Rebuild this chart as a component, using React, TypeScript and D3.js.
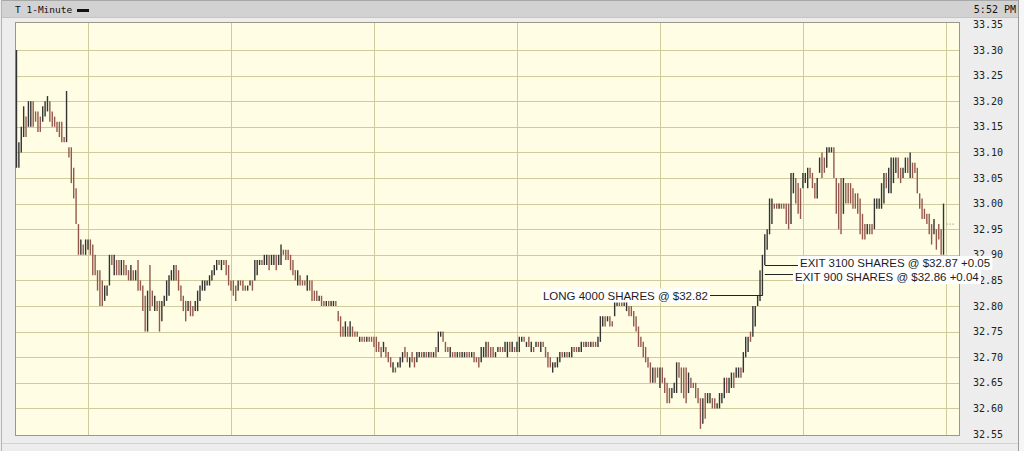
import React, { useMemo } from "react";
import * as d3 from "d3";

// ---------- DATA ----------
const HEADER_LEFT = "T 1-Minute";
const HEADER_RIGHT = "5:52 PM";
const SESSION_OPEN = "09:30";
const SESSION_CLOSE = "16:00";
const GRID_TIMES = ["10:00", "11:00", "12:00", "13:00", "14:00", "15:00", "16:00"];
const PRICE_TICKS = [32.55, 32.6, 32.65, 32.7, 32.75, 32.8, 32.85, 32.9, 32.95, 33.0, 33.05, 33.1, 33.15, 33.2, 33.25, 33.3, 33.35];
const PRICE_MIN = 32.55;
const PRICE_MAX = 33.35;

// one-minute bars, 09:30 .. 15:59
const HIGH = [
  33.30, 33.12, 33.15, 33.19, 33.17, 33.20, 33.20, 33.20, 33.18, 33.18,
  33.17, 33.19, 33.20, 33.21, 33.20, 33.18, 33.17, 33.16, 33.16, 33.16,
  33.13, 33.22, 33.11, 33.11, 33.07, 33.03, 32.96, 32.93, 32.92, 32.93,
  32.93, 32.93, 32.92, 32.90, 32.87, 32.87, 32.85, 32.84, 32.84, 32.90,
  32.90, 32.90, 32.89, 32.89, 32.89, 32.89, 32.88, 32.87, 32.88, 32.87,
  32.87, 32.89, 32.85, 32.84, 32.82, 32.83, 32.88, 32.83, 32.82, 32.81,
  32.81, 32.81, 32.82, 32.85, 32.86, 32.87, 32.88, 32.88, 32.87, 32.84,
  32.82, 32.81, 32.81, 32.81, 32.80, 32.81, 32.83, 32.84, 32.85, 32.85,
  32.85, 32.86, 32.87, 32.88, 32.89, 32.89, 32.89, 32.89, 32.89, 32.88,
  32.85, 32.85, 32.84, 32.85, 32.85, 32.85, 32.84, 32.84, 32.85, 32.85,
  32.89, 32.89, 32.89, 32.89, 32.90, 32.90, 32.90, 32.90, 32.90, 32.90,
  32.90, 32.92, 32.91, 32.91, 32.91, 32.90, 32.89, 32.87, 32.87, 32.86,
  32.85, 32.85, 32.86, 32.85, 32.85, 32.83, 32.83, 32.82, 32.82, 32.81,
  32.81, 32.81, 32.81, 32.81, 32.81, 32.79, 32.78, 32.76, 32.77, 32.76,
  32.77, 32.76, 32.75, 32.75, 32.74, 32.74, 32.74, 32.74, 32.74, 32.74,
  32.74, 32.74, 32.73, 32.72, 32.73, 32.72, 32.71, 32.70, 32.69, 32.68,
  32.69, 32.70, 32.71, 32.72, 32.71, 32.70, 32.71, 32.70, 32.71, 32.71,
  32.71, 32.71, 32.71, 32.71, 32.71, 32.71, 32.72, 32.75, 32.75, 32.75,
  32.73, 32.72, 32.72, 32.71, 32.71, 32.71, 32.71, 32.71, 32.71, 32.71,
  32.71, 32.71, 32.71, 32.70, 32.70, 32.72, 32.72, 32.73, 32.73, 32.72,
  32.72, 32.71, 32.72, 32.72, 32.72, 32.73, 32.73, 32.73, 32.73, 32.72,
  32.73, 32.74, 32.74, 32.74, 32.73, 32.74, 32.73, 32.72, 32.73, 32.73,
  32.73, 32.73, 32.72, 32.71, 32.70, 32.69, 32.69, 32.70, 32.71, 32.71,
  32.71, 32.71, 32.71, 32.72, 32.72, 32.72, 32.72, 32.73, 32.73, 32.73,
  32.73, 32.73, 32.73, 32.73, 32.74, 32.78, 32.78, 32.78, 32.78, 32.78,
  32.77, 32.81, 32.81, 32.81, 32.81, 32.81, 32.81, 32.80, 32.80, 32.79,
  32.78, 32.76, 32.74, 32.73, 32.72, 32.70, 32.69, 32.68, 32.68, 32.68,
  32.68, 32.68, 32.66, 32.65, 32.64, 32.64, 32.65, 32.69, 32.69, 32.68,
  32.68, 32.68, 32.67, 32.66, 32.65, 32.65, 32.64, 32.62, 32.62, 32.63,
  32.63, 32.63, 32.62, 32.62, 32.61, 32.63, 32.63, 32.66, 32.66, 32.66,
  32.67, 32.67, 32.68, 32.68, 32.68, 32.71, 32.74, 32.74, 32.75, 32.80,
  32.80, 32.82, 32.87, 32.90, 32.94, 32.95, 33.01, 33.01, 33.00, 33.00,
  33.00, 33.00, 33.00, 33.00, 33.00, 33.06, 33.06, 33.05, 33.04, 33.03,
  33.06, 33.06, 33.07, 33.07, 33.06, 33.04, 33.05, 33.09, 33.10, 33.09,
  33.11, 33.11, 33.11, 33.11, 33.05, 33.04, 33.05, 33.05, 33.04, 33.04,
  33.04, 33.03, 33.02, 33.02, 33.01, 32.98, 32.96, 32.96, 32.96, 32.96,
  33.01, 33.01, 33.01, 33.04, 33.06, 33.06, 33.07, 33.09, 33.09, 33.09,
  33.09, 33.07, 33.07, 33.09, 33.09, 33.10, 33.08, 33.08, 33.07, 33.02,
  33.01, 32.99, 32.98, 32.98, 32.96, 32.97, 32.95, 32.96, 32.95, 33.00,
];
const LOW = [
  33.07, 33.07, 33.10, 33.13, 33.13, 33.15, 33.15, 33.15, 33.16, 33.14,
  33.14, 33.16, 33.17, 33.18, 33.16, 33.15, 33.15, 33.14, 33.13, 33.12,
  33.12, 33.12, 33.09, 33.04, 33.01, 32.96, 32.90, 32.90, 32.90, 32.90,
  32.91, 32.90, 32.86, 32.86, 32.83, 32.80, 32.80, 32.81, 32.82, 32.84,
  32.88, 32.86, 32.86, 32.86, 32.86, 32.86, 32.86, 32.85, 32.85, 32.85,
  32.85, 32.83, 32.83, 32.79, 32.75, 32.75, 32.79, 32.80, 32.79, 32.79,
  32.75, 32.77, 32.80, 32.81, 32.82, 32.85, 32.85, 32.85, 32.83, 32.81,
  32.79, 32.77, 32.79, 32.78, 32.78, 32.79, 32.79, 32.81, 32.83, 32.83,
  32.84, 32.84, 32.85, 32.86, 32.87, 32.88, 32.87, 32.88, 32.86, 32.84,
  32.83, 32.82, 32.81, 32.83, 32.84, 32.83, 32.83, 32.83, 32.84, 32.83,
  32.85, 32.86, 32.88, 32.88, 32.88, 32.88, 32.87, 32.88, 32.88, 32.87,
  32.88, 32.88, 32.90, 32.89, 32.89, 32.87, 32.86, 32.85, 32.84, 32.84,
  32.84, 32.84, 32.83, 32.83, 32.81, 32.81, 32.81, 32.81, 32.80, 32.80,
  32.80, 32.80, 32.80, 32.80, 32.80, 32.77, 32.74, 32.74, 32.74, 32.74,
  32.74, 32.74, 32.74, 32.74, 32.73, 32.73, 32.73, 32.73, 32.73, 32.73,
  32.72, 32.71, 32.71, 32.70, 32.71, 32.70, 32.69, 32.68, 32.67, 32.67,
  32.68, 32.68, 32.69, 32.70, 32.69, 32.68, 32.69, 32.68, 32.69, 32.70,
  32.70, 32.70, 32.70, 32.70, 32.70, 32.70, 32.70, 32.71, 32.74, 32.73,
  32.71, 32.71, 32.70, 32.70, 32.70, 32.70, 32.70, 32.70, 32.70, 32.70,
  32.70, 32.70, 32.69, 32.69, 32.68, 32.69, 32.70, 32.70, 32.70, 32.70,
  32.70, 32.70, 32.71, 32.71, 32.71, 32.71, 32.70, 32.71, 32.71, 32.71,
  32.71, 32.71, 32.73, 32.73, 32.72, 32.72, 32.71, 32.71, 32.72, 32.72,
  32.71, 32.72, 32.70, 32.68, 32.68, 32.67, 32.68, 32.68, 32.69, 32.70,
  32.70, 32.70, 32.70, 32.70, 32.71, 32.71, 32.71, 32.71, 32.72, 32.72,
  32.72, 32.72, 32.72, 32.72, 32.72, 32.73, 32.76, 32.76, 32.77, 32.76,
  32.76, 32.78, 32.80, 32.80, 32.80, 32.80, 32.79, 32.78, 32.78, 32.76,
  32.75, 32.72, 32.72, 32.70, 32.69, 32.68, 32.65, 32.65, 32.65, 32.66,
  32.64, 32.65, 32.63, 32.61, 32.61, 32.62, 32.63, 32.63, 32.66, 32.63,
  32.62, 32.61, 32.63, 32.64, 32.64, 32.62, 32.61, 32.56, 32.57, 32.58,
  32.61, 32.61, 32.60, 32.60, 32.60, 32.60, 32.61, 32.62, 32.63, 32.63,
  32.64, 32.64, 32.66, 32.66, 32.66, 32.67, 32.70, 32.71, 32.73, 32.74,
  32.76, 32.80, 32.81, 32.82, 32.88, 32.91, 32.94, 32.96, 32.99, 32.99,
  32.99, 32.99, 32.99, 32.96, 32.95, 32.96, 33.02, 33.00, 32.98, 32.97,
  33.03, 33.04, 33.03, 33.05, 33.03, 33.01, 33.01, 33.06, 33.05, 33.06,
  33.07, 33.10, 33.10, 33.05, 32.98, 32.95, 32.94, 32.98, 33.00, 33.00,
  33.00, 32.99, 32.99, 32.98, 32.94, 32.93, 32.93, 32.94, 32.94, 32.94,
  32.95, 32.99, 32.99, 32.99, 33.00, 33.03, 33.02, 33.02, 33.04, 33.06,
  33.05, 33.04, 33.05, 33.06, 33.06, 33.05, 33.05, 33.06, 33.02, 32.99,
  32.97, 32.97, 32.96, 32.94, 32.92, 32.94, 32.91, 32.93, 32.90, 32.90,
];
// bar colour: u = dark (up), d = brown (down)
const DIRECTION = [
  "uuuuduuddd", "duuudddddd", "dudddddudu", "udddddduuu", "duddudddud",
  "udddduddud", "duuuuuuddd", "ddudduuuuu", "uuuuududdd", "ddduddduud",
  "uuuduuduud", "uuddddddud", "dduddddudd", "uduuddddud", "uddduddudd",
  "ddddudddud", "uuuddudduu", "dudududuud", "ddudduduud", "duddduuudd",
  "duudduudud", "uuudududud", "udddduuuud", "uduudduudu", "dudduuudud",
  "duudduuddd", "dddddddudd", "udddduuudd", "ddudddddud", "uudduuuudu",
  "uduuduuudu", "uuuuuuuudd", "udddduuddd", "uuuddduudd", "uuuddddudd",
  "dddddddudd", "uuuuuduuuu", "dduududddd", "dddddudddu",
].join("");
const LAST_PRICE = 32.96;

// trade annotations
const ANN_TEXT = ["LONG 4000 SHARES @ $32.82", "EXIT 3100 SHARES @ $32.87 +0.05", "EXIT 900 SHARES @ $32.86 +0.04"];
const ANN_PRICE = [32.82, 32.87, 32.86];
const ANN_TIME = ["14:43", "14:44", "14:44"];
const ANN_SIDE = ["left", "right", "right"];

// ---------- LAYOUT / STYLE ----------
const W = 1024;
const H = 451;
const PLOT = { left: 15.5, right: 959.5, top: 22.5, bottom: 435.5 };
const X_RANGE = [16.5, 945.9];
const Y_RANGE = [434, 24.4];
// lineDy: shift of the connector line, textDy: shift of the label centre from the line
const ANN_LAYOUT = [
  { lineEnd: 710, textX: 708, lineDy: -1, textDy: 0 },
  { lineEnd: 798, textX: 800, lineDy: -4.7, textDy: -2.5 },
  { lineEnd: 793, textX: 795, lineDy: -1.3, textDy: 2.5 },
];
const MONO = "'DejaVu Sans Mono', 'Liberation Mono', monospace";
const SANS = "'Liberation Sans', Arial, sans-serif";
const UP_COLOR = "#333333";
const DOWN_COLOR = "#94594c";
const GRID_COLOR = "#cfcb9c";
const PLOT_BG = "#fffee4";

const toMinutes = (s: string) => {
  const [h, m] = s.split(":").map(Number);
  return h * 60 + m;
};

export default function App() {
  const open = toMinutes(SESSION_OPEN);
  const close = toMinutes(SESSION_CLOSE);
  const x = d3.scaleLinear().domain([0, close - open]).range(X_RANGE);
  const y = d3.scaleLinear().domain([PRICE_MIN, PRICE_MAX]).range(Y_RANGE);

  const annFont = "11.5px " + SANS;
  const widths = useMemo(() => {
    const c = document.createElement("canvas").getContext("2d");
    if (!c) return ANN_TEXT.map((t) => t.length * 6);
    c.font = "11.5px 'Liberation Sans'";
    return ANN_TEXT.map((t) => c.measureText(t).width);
  }, []);

  const bars = HIGH.map((h, i) => {
    const l = LOW[i];
    let y1 = y(h);
    let y2 = y(l);
    if (y2 - y1 < 2) {
      y1 -= 1;
      y2 += 1;
    }
    return { x: x(i), y1, y2, up: DIRECTION[i] !== "d" };
  });

  const hGrid = PRICE_TICKS.filter((p) => p > PRICE_MIN + 1e-6 && p < PRICE_MAX - 1e-6);

  return (
    <div style={{ position: "fixed", left: 0, top: 0, width: W, height: H }}>
      <svg width={W} height={H} style={{ display: "block" }}>
        {/* frame */}
        <rect x={0} y={0} width={W} height={H} fill="#ededed" />
        <rect x={1019} y={0} width={5} height={H} fill="#f6f6f6" />
        <line x1={1018.5} x2={1018.5} y1={0} y2={H} stroke="#9a9a9a" />
        <line x1={1.5} x2={1.5} y1={0} y2={H} stroke="#b4b4b4" />
        <rect x={2} y={0} width={1016} height={17} fill="#d2d2d2" />
        <line x1={2} x2={1018} y1={0.5} y2={0.5} stroke="#a8a8a8" />
        <line x1={2} x2={1018} y1={17.5} y2={17.5} stroke="#c4c4c4" />
        <line x1={2} x2={1018} y1={443.5} y2={443.5} stroke="#d2d2d2" />
        <text x={15} y={12.5} fontFamily={MONO} fontSize={9.5} fill="#111">
          {HEADER_LEFT}
        </text>
        <rect x={77} y={9} width={12} height={3} fill="#111" />
        <text x={1016} y={12.5} textAnchor="end" fontFamily={MONO} fontSize={10} fill="#111">
          {HEADER_RIGHT}
        </text>

        {/* plot area */}
        <rect
          x={PLOT.left}
          y={PLOT.top}
          width={PLOT.right - PLOT.left}
          height={PLOT.bottom - PLOT.top}
          fill={PLOT_BG}
        />
        {hGrid.map((p) => (
          <line
            key={"h" + p}
            x1={PLOT.left}
            x2={PLOT.right}
            y1={Math.round(y(p)) + 0.5}
            y2={Math.round(y(p)) + 0.5}
            stroke={GRID_COLOR}
          />
        ))}
        {GRID_TIMES.map((t) => {
          const gx = Math.round(x(toMinutes(t) - open)) + 0.5;
          return <line key={"v" + t} x1={gx} x2={gx} y1={PLOT.top} y2={PLOT.bottom} stroke={GRID_COLOR} />;
        })}
        <rect
          x={PLOT.left}
          y={PLOT.top}
          width={PLOT.right - PLOT.left}
          height={PLOT.bottom - PLOT.top}
          fill="none"
          stroke="#9b9985"
        />

        {/* y-axis labels */}
        {PRICE_TICKS.map((p) => (
          <text
            key={"t" + p}
            x={973}
            y={y(p) + 3.6}
            fontFamily={MONO}
            fontSize={10}
            fill="#222"
          >
            {p.toFixed(2)}
          </text>
        ))}

        {/* bars */}
        {bars.map((b, i) => (
          <line
            key={"b" + i}
            x1={b.x}
            x2={b.x}
            y1={b.y1}
            y2={b.y2}
            stroke={b.up ? UP_COLOR : DOWN_COLOR}
            strokeWidth={1.4}
          />
        ))}
        <line
          x1={x(HIGH.length - 1) + 3}
          x2={x(HIGH.length - 1) + 10}
          y1={y(LAST_PRICE)}
          y2={y(LAST_PRICE)}
          stroke="#777"
          strokeDasharray="1,2"
        />

        {/* annotations: boxes first, then lines, then texts */}
        {ANN_TEXT.map((t, i) => {
          const lay = ANN_LAYOUT[i];
          const bx = x(toMinutes(ANN_TIME[i]) - open);
          const ly = Math.round(y(ANN_PRICE[i]) + lay.lineDy) + 0.5;
          const ty = ly + lay.textDy;
          const w = widths[i];
          const left = ANN_SIDE[i] === "left";
          const tx0 = left ? lay.textX - w : lay.textX;
          return (
            <g key={"a" + i}>
              <rect x={tx0 - 2} y={ty - 7} width={w + 4} height={14} fill="#ffffff" />
              <line
                x1={left ? lay.lineEnd : bx}
                x2={left ? bx : lay.lineEnd}
                y1={ly}
                y2={ly}
                stroke="#222"
                strokeWidth={1}
              />
              <text x={tx0} y={ty + 4.2} style={{ font: annFont }} fill="#1c1c1c">
                {t}
              </text>
            </g>
          );
        })}
      </svg>
    </div>
  );
}
